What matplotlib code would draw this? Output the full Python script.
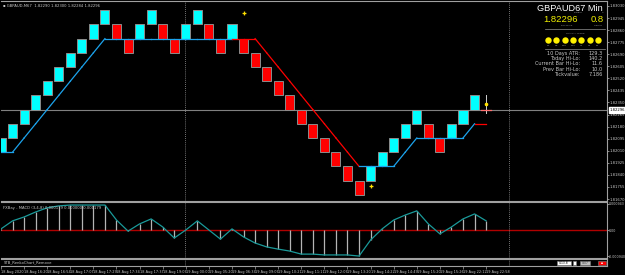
import matplotlib.pyplot as plt
from matplotlib.patches import Rectangle
from matplotlib.transforms import blended_transform_factory
import numpy as np

# renko chart GBPAUD M67, 10 pip bricks, level 0 starts at 1.82100
brick_size = 0.0010
base_price = 1.82100
brick_level = [-1, 0, 1, 2, 3, 4, 5, 6, 7, 8, 7, 6, 7, 8, 7, 6, 7, 8, 7, 6,
               7, 6, 5, 4, 3, 2, 1, 0, -1, -2, -3, -4, -3, -2, -1, 0, 1, 0,
               -1, 0, 1, 2]
brick_up = [1, 1, 1, 1, 1, 1, 1, 1, 1, 1, 0, 0, 1, 1, 0, 0, 1, 1, 0, 0,
            1, 0, 0, 0, 0, 0, 0, 0, 0, 0, 0, 0, 1, 1, 1, 1, 1, 0, 0, 1, 1, 1]

# trailing line (in brick levels), one point per bar, colour per segment
trail_level = [-1, -1, 0, 1, 2, 3, 4, 5, 6, 7, 7, 7, 7, 7, 7, 7, 7, 7, 7, 7,
               7, 7, 7, 6, 5, 4, 3, 2, 1, 0, -1, -2, -2, -2, -2, -1, 0, 0,
               0, 0, 0, 1, 1]
trail_up = [1, 1, 1, 1, 1, 1, 1, 1, 1, 1, 1, 1, 1, 1, 1, 1, 1, 1, 1, 1,
            0, 0, 0, 0, 0, 0, 0, 0, 0, 0, 0,
            1, 1, 1, 1, 1, 1, 1, 1, 1, 1, 0]

fractal_idx = [21, 32]
fractal_price = [1.82981, 1.81762]

bid = 1.82296
cur_idx = 42
cur_lo, cur_hi, cur_dot = 1.82276, 1.82403, 1.82339

macd = [0.00004, 0.00033, 0.00047, 0.00065, 0.00080, 0.00087, 0.00090,
        0.00090, 0.00090, 0.00090, 0.00036, -0.00004, 0.00022, 0.00040,
        0.00011, -0.00029, 0.00000, 0.00033, 0.00000, -0.00033, 0.00004,
        -0.00025, -0.00047, -0.00061, -0.00069, -0.00076, -0.00087,
        -0.00087, -0.00090, -0.00090, -0.00090, -0.00094, -0.00036,
        0.00004, 0.00036, 0.00054, 0.00069, 0.00022, -0.00014, 0.00011,
        0.00040, 0.00058, 0.00033]

price_ticks = [1.83030, 1.82945, 1.82860, 1.82775, 1.82690, 1.82605, 1.82520,
               1.82435, 1.82350, 1.82265, 1.82180, 1.82095, 1.82010, 1.81925,
               1.81840, 1.81755, 1.81670]
macd_ticks = [0.000943, 0.0, -0.000940]
macd_tick_labels = ['0.000943', '0.00', '-0.000940']

time_idx = list(range(0, 43, 2))
time_labels = ['18 Aug 2020', '18 Aug 16:20', '18 Aug 16:54', '18 Aug 17:07',
               '18 Aug 17:29', '18 Aug 17:34', '18 Aug 17:37', '18 Aug 19:06',
               '19 Aug 00:00', '19 Aug 05:20', '19 Aug 06:34', '19 Aug 09:06',
               '19 Aug 10:21', '19 Aug 11:11', '19 Aug 12:06', '19 Aug 13:20',
               '19 Aug 14:22', '19 Aug 14:49', '19 Aug 15:20', '19 Aug 15:26',
               '19 Aug 22:12', '19 Aug 22:58']
separators = [15.95, 44.0]

tf_names = ['M1', 'M5', 'M15', 'M30', 'H1', 'H4', 'D1']
stat_names = ['10 Days ATR:', 'Today Hi-Lo:', 'Current Bar Hi-Lo:',
              'Prev Bar Hi-Lo:', 'Tickvalue:']
stat_values = ['129.3', '140.2', '11.6', '10.0', '7.186']

CYAN = '#00FFFF'
RED = '#FF0000'
BLUE = '#1CA3EC'
GREY_TXT = '#C8C8C8'
FS = 2.7

W, H = 625, 275
fig = plt.figure(figsize=(W / 100, H / 100), dpi=100, facecolor='black')


def fx(px):
    return px / W


def fy(py):
    return 1 - py / H


def axes_px(x0, y0, x1, y1):
    return fig.add_axes([fx(x0), fy(y1), fx(x1) - fx(x0), fy(y0) - fy(y1)])


ax = axes_px(1, 1, 607, 201)
ax2 = axes_px(1, 202, 607, 258)
ax3 = axes_px(1, 259, 607, 266)
xmax = 606 / 11.55
for a in (ax, ax2, ax3):
    a.set_facecolor('black')
    a.set_xlim(0, xmax)
    for s in a.spines.values():
        s.set_color('#A0A0A0')
        s.set_linewidth(0.8)
    a.spines['left'].set_visible(False)
    for sx in separators:
        a.axvline(sx, color='#9A9A9A', lw=0.6, ls=(0, (1, 1.5)))

# ---- main renko panel ----
ax.set_ylim(1.81656, 1.83065)
ax.axhline(bid, color='#808080', lw=0.8, zorder=1)
for i, (lvl, up) in enumerate(zip(brick_level, brick_up)):
    ax.add_patch(Rectangle((i - 0.39, base_price + lvl * brick_size), 0.78,
                           brick_size, facecolor=CYAN if up else RED,
                           edgecolor='#8C8C8C', lw=0.7, zorder=3))
tp = [base_price + l * brick_size for l in trail_level]
for i, up in enumerate(trail_up):
    ax.plot([i, i + 1], [tp[i], tp[i + 1]], color=BLUE if up else RED,
            lw=0.9, zorder=4)
ax.plot(fractal_idx, fractal_price, ls='none', marker='P', ms=2.8,
        color='#FFE000', mew=0, zorder=5)
ax.plot([cur_idx, cur_idx], [cur_lo, cur_hi], color='#D0D0D0', lw=0.7, zorder=4)
ax.plot([cur_idx - 0.4, cur_idx + 0.4], [bid, bid], color='#FF7070', lw=0.9, zorder=4)
ax.plot([cur_idx], [cur_dot], marker='o', ms=1.6, color='#FFE000', zorder=5)

ax.yaxis.tick_right()
ax.set_yticks(price_ticks)
ax.set_yticklabels(['%.5f' % p for p in price_ticks])
ax.tick_params(axis='y', colors='#A0A0A0', labelcolor=GREY_TXT, labelsize=FS,
               length=1.5, width=0.6, pad=0.6)
ax.set_xticks([])
tr = blended_transform_factory(ax.transAxes, ax.transData)
ax.text(1.004, bid, '1.82296', transform=tr, fontsize=FS, color='black',
        va='center', ha='left', zorder=10,
        bbox=dict(facecolor='white', edgecolor='white', pad=0.5))
ax.text(0.004, 0.985, '\u25aa GBPAUD,M67  1.82290 1.82300 1.82284 1.82296',
        transform=ax.transAxes, fontsize=FS, color=GREY_TXT, va='top')

# ---- info panel ----
fig.text(fx(603), fy(8.5), 'GBPAUD67 Min', fontsize=6.6, color='white',
         ha='right', va='center', family='Liberation Sans')
fig.text(fx(578), fy(12.5), 'SYMBOL', fontsize=1.6, color='#909090', ha='center', va='center')
fig.text(fx(603), fy(12.5), 'TF', fontsize=1.6, color='#909090', ha='center', va='center')
fig.text(fx(578), fy(19.5), '1.82296', fontsize=6.8, color='#F0F000',
         ha='right', va='center', family='Liberation Sans')
fig.text(fx(604), fy(19.5), '0.8', fontsize=6.8, color='#F0F000',
         ha='right', va='center', family='Liberation Sans')
fig.text(fx(567), fy(25.5), 'BID PRICE', fontsize=1.6, color='#909090', ha='center', va='center')
fig.text(fx(598), fy(25.5), 'SPREAD', fontsize=1.6, color='#909090', ha='center', va='center')
fig.add_artist(plt.Line2D([fx(545), fx(605)], [fy(29), fy(29)], color='#909090', lw=0.5))
fig.text(fx(575), fy(33), 'FRACTAL TREND', fontsize=1.6, color='#909090', ha='center', va='center')
for k, name in enumerate(tf_names):
    cx = 548 + k * 8.3
    fig.add_artist(plt.Line2D([fx(cx)], [fy(40)], marker='o', ms=4.6,
                              color='#FFF000', mew=0))
    fig.text(fx(cx), fy(45.5), name, fontsize=1.6, color='#B0B0B0', ha='center', va='center')
fig.add_artist(plt.Line2D([fx(545), fx(605)], [fy(49), fy(49)], color='#909090', lw=0.5))
for k, (n, v) in enumerate(zip(stat_names, stat_values)):
    yy = fy(53.5 + k * 5.2)
    fig.text(fx(580), yy, n, fontsize=3.6, color=GREY_TXT, ha='right', va='center')
    fig.text(fx(603), yy, v, fontsize=3.6, color=GREY_TXT, ha='right', va='center')

# ---- MACD panel ----
idx = np.arange(len(macd))
ax2.set_ylim(-0.00101, 0.00101)
ax2.axhline(0, color='#B00000', lw=1.0, zorder=1)
ax2.vlines(idx, 0, macd, color='#B4B4B4', lw=0.9, zorder=2)
ax2.plot(idx, macd, color='#1A9A9A', lw=0.9, zorder=3)
ax2.yaxis.tick_right()
ax2.set_yticks(macd_ticks)
ax2.set_yticklabels(macd_tick_labels)
ax2.tick_params(axis='y', colors='#A0A0A0', labelcolor=GREY_TXT, labelsize=2.3,
                length=1.2, width=0.6, pad=0.4)
ax2.set_xticks([])
ax2.text(0.004, 0.93, 'FXBay - MACD (3,4,8) 0.000179 0.000000 0.000179',
         transform=ax2.transAxes, fontsize=FS, color=GREY_TXT, va='top')

# ---- bottom strip + time axis ----
ax3.set_ylim(0, 1)
ax3.set_yticks([])
ax3.text(0.004, 0.5, 'STB_RenkoChart_Remove', transform=ax3.transAxes,
         fontsize=FS, color=GREY_TXT, va='center')


def strip_box(x0, x1, fc, label=None, tc='black'):
    a0 = (x0 - 1) / 606
    a1 = (x1 - 1) / 606
    ax3.add_patch(Rectangle((a0, 0.12), a1 - a0, 0.66, transform=ax3.transAxes,
                            facecolor=fc, edgecolor='#808080', lw=0.4, clip_on=False))
    if label:
        ax3.text((a0 + a1) / 2, 0.45, label, transform=ax3.transAxes,
                 fontsize=2.2, color=tc, ha='center', va='center')


strip_box(557, 571, 'white', '0.13.8')
strip_box(573, 576, 'white')
strip_box(580, 590, '#C0C0C0', '0:07', '#404040')
strip_box(598, 606, '#FF0000', '\u25aa', 'white')

ax3.set_xticks(time_idx)
ax3.set_xticklabels(time_labels)
ax3.tick_params(axis='x', colors='#A0A0A0', labelcolor=GREY_TXT, labelsize=2.5,
                length=2, width=0.5, pad=0.8)
for t in ax3.get_xticklabels():
    t.set_ha('left')

fig.savefig('out.png', dpi=100, facecolor='black')
